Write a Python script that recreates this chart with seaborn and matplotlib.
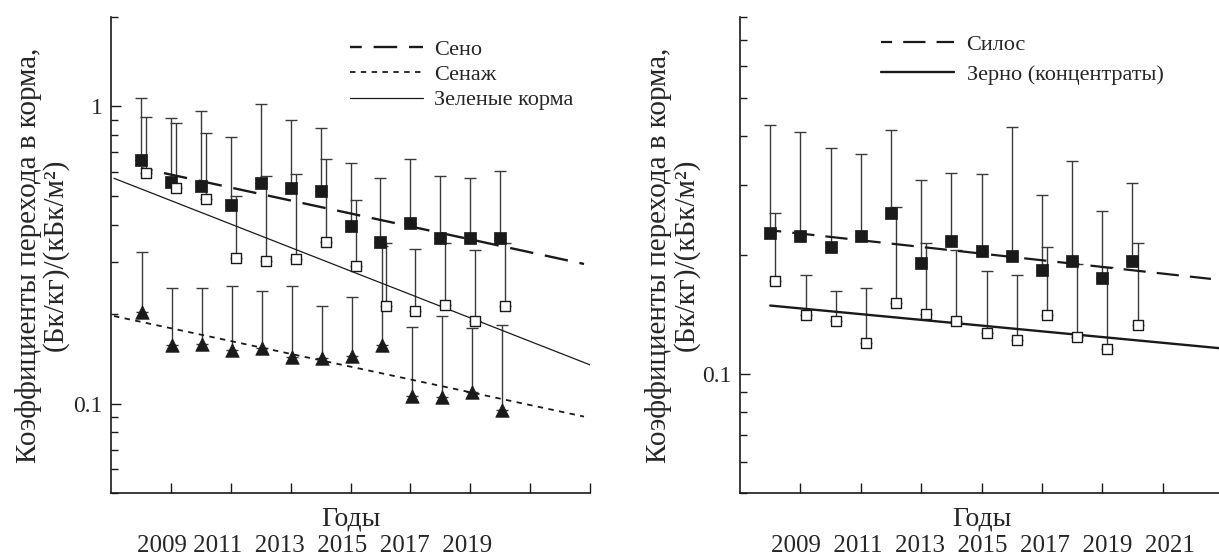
import numpy as np
import pandas as pd
import matplotlib
matplotlib.use("Agg")
import matplotlib.pyplot as plt
import matplotlib.ticker as mticker
import seaborn as sns

# data (upper error bar ends given as absolute values)
years = np.arange(2008, 2021)

seno = [0.659, 0.556, 0.539, 0.466, 0.552, 0.531, 0.519, 0.396, 0.350, 0.405, 0.361, 0.361, 0.361]
seno_top = [1.07, 0.911, 0.962, 0.787, 1.02, 0.897, 0.844, 0.644, 0.573, 0.664, 0.584, 0.573, 0.605]

zel = [0.596, 0.531, 0.488, 0.309, 0.302, 0.307, 0.350, 0.290, 0.213, 0.205, 0.215, 0.190, 0.213]
zel_top = [0.925, 0.877, 0.811, 0.499, 0.582, 0.591, 0.664, 0.484, 0.347, 0.331, 0.347, 0.329, 0.347]

senazh = [0.204, 0.158, 0.159, 0.152, 0.154, 0.144, 0.142, 0.145, 0.157, 0.106, 0.105, 0.109, 0.0955]
senazh_top = [0.324, 0.245, 0.245, 0.249, 0.239, 0.249, 0.213, 0.229, 0.34, 0.181, 0.197, 0.179, 0.184]

silos = [0.227, 0.224, 0.209, 0.223, 0.256, 0.191, 0.217, 0.205, 0.199, 0.183, 0.193, 0.175, 0.193]
silos_top = [0.426, 0.409, 0.373, 0.360, 0.414, 0.310, 0.323, 0.321, 0.421, 0.284, 0.346, 0.258, 0.305]

zerno = [0.172, 0.141, 0.136, 0.120, 0.151, 0.142, 0.136, 0.127, 0.122, 0.141, 0.124, 0.116, 0.133]
zerno_top = [0.255, 0.178, 0.162, 0.165, 0.264, 0.215, 0.206, 0.182, 0.178, 0.209, 0.190, 0.187, 0.214]

# trend lines (start/end)
seno_tr_x, seno_tr_y = [2008.0, 2022.8], [0.62, 0.295]
senazh_tr_x, senazh_tr_y = [2007.1, 2022.8], [0.197, 0.0904]
zel_tr_x, zel_tr_y = [2007.1, 2023.0], [0.573, 0.135]
silos_tr_x, silos_tr_y = [2008.0, 2022.6], [0.231, 0.174]
zerno_tr_x, zerno_tr_y = [2008.0, 2023.0], [0.149, 0.116]

ylabel = "Коэффициенты перехода в корма,\n(Бк/кг)/(кБк/м²)"
left_years_txt = "2009 2011  2013  2015  2017  2019"
right_years_txt = "2009  2011  2013  2015  2017  2019  2021"

sns.set_style("ticks")
plt.rcParams['font.family'] = ['Liberation Serif', 'DejaVu Serif']

fig = plt.figure(figsize=(12.19, 5.58), dpi=100)
W, H = 1219, 558
ax1 = fig.add_axes([111 / W, 1 - 493 / H, 479 / W, 476 / H])
ax2 = fig.add_axes([740 / W, 1 - 493 / H, 483 / W, 476 / H])

INK = "#1a1a1a"
BAR = "#3a3a3a"


def errs(vals, tops, xs, ax):
    vals = np.array(vals)
    up = np.array(tops) - vals
    ax.errorbar(xs, vals, yerr=[np.zeros_like(up), up], fmt="none", ecolor=BAR,
                elinewidth=1.0, capsize=4, capthick=1.0, zorder=2)


def filled(vals, tops, xs, ax):
    errs(vals, tops, xs, ax)
    sns.scatterplot(x=xs, y=vals, ax=ax, marker="s", s=85, color=INK,
                    edgecolor=INK, linewidth=0.5, zorder=4)


def opened(vals, tops, xs, ax):
    errs(vals, tops, xs, ax)
    sns.scatterplot(x=xs, y=vals, ax=ax, marker="s", s=62, facecolor="white",
                    edgecolor=INK, linewidth=1.0, zorder=4)


# left panel
l1, = ax1.plot(seno_tr_x, seno_tr_y, color=INK, lw=1.7, linestyle=(5, (10, 5)), label="Сено", zorder=3)
l2, = ax1.plot(senazh_tr_x, senazh_tr_y, color=INK, lw=1.3, linestyle=(0, (3, 3)), label="Сенаж", zorder=3)
l3, = ax1.plot(zel_tr_x, zel_tr_y, color=INK, lw=0.9, label="Зеленые корма", zorder=3)

errs(senazh, senazh_top, years + 0.05, ax1)
sns.scatterplot(x=years + 0.05, y=senazh, ax=ax1, marker="^", s=95, color=INK,
                edgecolor=INK, linewidth=0.5, zorder=4)
filled(seno, seno_top, years, ax1)
opened(zel, zel_top, years + 0.17, ax1)

ax1.legend(handles=[l1, l2, l3], loc="upper left", bbox_to_anchor=(350 / W, 1 - 39 / H),
           bbox_transform=fig.transFigure, frameon=False, fontsize=16, handlelength=3.3,
           handletextpad=0.5, labelspacing=0.22, borderpad=0, borderaxespad=0)

# right panel
r1, = ax2.plot(silos_tr_x, silos_tr_y, color=INK, lw=1.6, linestyle=(5, (10, 5)), label="Силос", zorder=3)
r2, = ax2.plot(zerno_tr_x, zerno_tr_y, color=INK, lw=1.7, label="Зерно (концентраты)", zorder=3)

filled(silos, silos_top, years, ax2)
opened(zerno, zerno_top, years + 0.17, ax2)

ax2.legend(handles=[r1, r2], loc="upper left", bbox_to_anchor=(881 / W, 1 - 34 / H),
           bbox_transform=fig.transFigure, frameon=False, fontsize=16, handlelength=3.3,
           handletextpad=0.55, labelspacing=0.45, borderpad=0, borderaxespad=0)

for ax, ylim, lab_x in [(ax1, (0.05, 2.0), -0.088), (ax2, (0.05, 0.8), -0.084)]:
    ax.set_yscale("log")
    ax.set_ylim(*ylim)
    ax.set_xlim(2007, 2023)
    ax.yaxis.set_major_locator(mticker.FixedLocator([0.1, 1]))
    ax.yaxis.set_major_formatter(mticker.FixedFormatter(["0.1", "1"]))
    ax.yaxis.set_minor_locator(mticker.LogLocator(base=10, subs=np.arange(2, 10)))
    ax.yaxis.set_minor_formatter(mticker.NullFormatter())
    ax.set_xticks(np.arange(2009, 2024, 2))
    ax.set_xticklabels([])
    ax.tick_params(axis="both", which="major", direction="in", length=7, width=1.0,
                   color=INK, labelsize=17, pad=6)
    ax.tick_params(axis="y", which="minor", direction="in", length=5, width=1.0, color=INK)
    for s in ["top", "right"]:
        ax.spines[s].set_visible(False)
    for s in ["left", "bottom"]:
        ax.spines[s].set_linewidth(1.2)
        ax.spines[s].set_color(INK)
    ax.set_xlabel("Годы", fontsize=20, labelpad=4)
    ax.set_ylabel(ylabel, fontsize=21, linespacing=1.0)
    ax.yaxis.set_label_coords(lab_x, 0.5)

fig.text(315 / W, 1 - 546 / H, left_years_txt, ha="center", va="center", fontsize=18)
fig.text(983 / W, 1 - 546 / H, right_years_txt, ha="center", va="center", fontsize=18)

fig.savefig("out.png", dpi=100)
